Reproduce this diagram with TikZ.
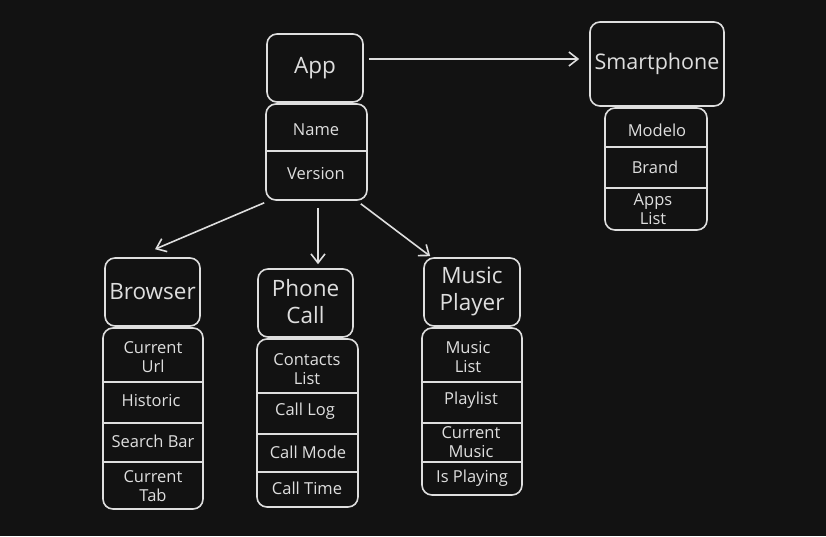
\documentclass[tikz,border=0pt]{standalone}
\usepackage{fontspec}
\setmainfont{Open Sans}
\usetikzlibrary{arrows.meta}
\definecolor{bg}{HTML}{121212}
\definecolor{ink}{HTML}{DEDEDE}
\begin{document}
\begin{tikzpicture}[x=1pt,y=-1pt,
  box/.style={draw=ink, line width=1.6pt, rounded corners=10pt, inner sep=0pt},
  title/.style={text=ink, align=center, font=\fontsize{22.5}{27}\selectfont},
  attr/.style={text=ink, align=center, font=\fontsize{16.5}{19}\selectfont},
  divline/.style={draw=ink, line width=1.6pt},
  arr/.style={draw=ink, line width=1.6pt, -{Straight Barb[length=9pt,width=14pt,line width=1.6pt]}}]
\fill[bg] (0,0) rectangle (826,536);
\useasboundingbox (0,0) rectangle (826,536);

% App
\node[box, minimum width=96pt, minimum height=68pt] (app) at (315,68) {};
\node[title] (appt) at (315,68) {App};
\node[box, minimum width=101pt, minimum height=96pt] (appa) at (316.5,152) {};
\draw[divline] (appa.west |- 0,151) -- (appa.east |- 0,151);
\node[attr] (a1) at (316,130) {Name};
\node[attr] (a2) at (316,174) {Version};

% Smartphone
\node[box, minimum width=134pt, minimum height=84pt] (sp) at (657,64) {};
\node[title, font=\fontsize{21.5}{25}\selectfont] (spt) at (657,64) {Smartphone};
\node[box, minimum width=102pt, minimum height=122pt] (spa) at (656,169) {};
\draw[divline] (spa.west |- 0,147) -- (spa.east |- 0,147);
\draw[divline] (spa.west |- 0,188) -- (spa.east |- 0,188);
\node[attr] (s1) at (657,130) {Modelo};
\node[attr] (s2) at (655,167) {Brand};
\node[attr] (s3) at (653,209) {Apps\\List};

% Browser
\node[box, minimum width=95pt, minimum height=68pt] (br) at (152.5,292) {};
\node[title] (brt) at (152.5,292) {Browser};
\node[box, minimum width=100pt, minimum height=181pt] (bra) at (153,418.5) {};
\draw[divline] (bra.west |- 0,382) -- (bra.east |- 0,382);
\draw[divline] (bra.west |- 0,423) -- (bra.east |- 0,423);
\draw[divline] (bra.west |- 0,462) -- (bra.east |- 0,462);
\node[attr] (b1) at (153,357) {Current\\Url};
\node[attr] (b2) at (151,401) {Historic};
\node[attr] (b3) at (153,441) {Search Bar};
\node[attr] (b4) at (153,486) {Current\\Tab};

% Phone Call
\node[box, minimum width=95pt, minimum height=68pt] (pc) at (305.5,303) {};
\node[title] (pct) at (305.5,302) {Phone\\Call};
\node[box, minimum width=101pt, minimum height=168pt] (pca) at (307.5,423) {};
\draw[divline] (pca.west |- 0,393) -- (pca.east |- 0,393);
\draw[divline] (pca.west |- 0,434) -- (pca.east |- 0,434);
\draw[divline] (pca.west |- 0,472) -- (pca.east |- 0,472);
\node[attr] (p1) at (307,369) {Contacts\\List};
\node[attr] (p2) at (305,411) {Call Log};
\node[attr] (p3) at (308,452) {Call Mode};
\node[attr] (p4) at (307,488) {Call Time};

% Music Player
\node[box, minimum width=96pt, minimum height=68pt] (mp) at (472,292) {};
\node[title] (mpt) at (472,291) {Music\\Player};
\node[box, minimum width=100pt, minimum height=167pt] (mpa) at (472,411.5) {};
\draw[divline] (mpa.west |- 0,382) -- (mpa.east |- 0,382);
\draw[divline] (mpa.west |- 0,423) -- (mpa.east |- 0,423);
\draw[divline] (mpa.west |- 0,462) -- (mpa.east |- 0,462);
\node[attr] (m1) at (468,357) {Music\\List};
\node[attr] (m2) at (471,400) {Playlist};
\node[attr] (m3) at (471,442) {Current\\Music};
\node[attr] (m4) at (472,478) {Is Playing};

% Arrows
\draw[arr] ([shift={(5pt,9pt)}]app.east) -- ([shift={(-10pt,5pt)}]sp.west);
\draw[arr] ([shift={(-1pt,-2pt)}]appa.south west) -- ([shift={(2.5pt,8pt)}]br.north);
\draw[arr] ([shift={(1.5pt,-7pt)}]appa.south) -- ([shift={(12.5pt,4pt)}]pc.north);
\draw[arr] ([shift={(-7pt,-3pt)}]appa.south east) -- ([shift={(7pt,1pt)}]mp.north west);
\end{tikzpicture}
\end{document}
